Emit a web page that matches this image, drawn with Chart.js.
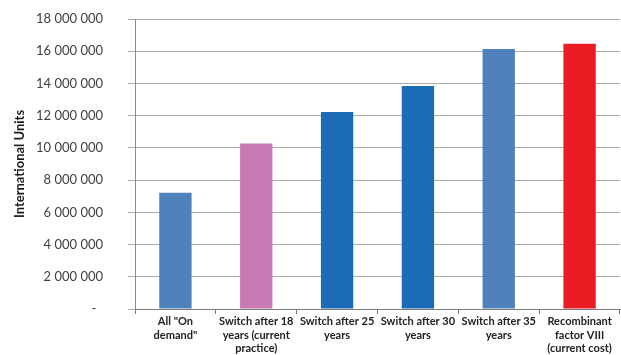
<!DOCTYPE html>
<html><head><meta charset="utf-8">
<script src="https://cdn.jsdelivr.net/npm/chart.js@4/dist/chart.umd.min.js"></script>
<style>html,body{margin:0;padding:0;background:#fff;}#wrap{width:621px;height:355px;}</style>
</head><body><div id="wrap"><canvas id="c" width="621" height="355"></canvas></div>
<script>
const categories = [
  ['All "On', 'demand"'],
  ['Switch after 18', 'years (current', 'practice)'],
  ['Switch after 25', 'years'],
  ['Switch after 30', 'years'],
  ['Switch after 35', 'years'],
  ['Recombinant', 'factor VIII', '(current cost)']
];
const values = [7220000, 10280000, 12230000, 13840000, 16140000, 16470000];
const barColors = ['#4F81BD', '#C779B4', '#1B6BB6', '#1B6BB6', '#4F81BD', '#EC1C24'];
const yTicks = [0, 2000000, 4000000, 6000000, 8000000, 10000000, 12000000, 14000000, 16000000, 18000000];
const yTitle = 'International Units';

function fmt(v){
  if (v === 0) return '-  ';
  return String(v).replace(/\B(?=(\d{3})+(?!\d))/g, ' ');
}

new Chart(document.getElementById('c'), {
  type: 'bar',
  data: { labels: categories, datasets: [{ data: values, backgroundColor: barColors, borderWidth: 0, categoryPercentage: 1, barPercentage: 0.4 }] },
  options: {
    responsive: false, animation: false,
    layout: { padding: { top: 19, right: 1, left: 0, bottom: 0 } },
    plugins: { legend: { display: false }, tooltip: { enabled: false } },
    scales: {
      x: {
        grid: { display: true, drawOnChartArea: false, drawTicks: true, tickLength: 5, color: '#7a7a7a', offset: true },
        border: { display: true, color: '#7a7a7a', width: 1 },
        ticks: { color: '#222222', font: { family: 'Lato', size: 11, weight: 'bold', lineHeight: '13.5px' }, padding: 1, maxRotation: 0, autoSkip: false },
        afterFit: s => { s.height = 46; s.paddingTop = 0; s.paddingBottom = 0; s.paddingLeft = 0; s.paddingRight = 0; }
      },
      y: {
        min: 0, max: 18000000,
        afterBuildTicks: s => { s.ticks = yTicks.map(v => ({ value: v })); },
        grid: { color: '#ababab', lineWidth: 1, tickLength: 7, drawTicks: true },
        border: { display: true, color: '#8a8a8a', width: 1 },
        ticks: { color: '#404040', font: { family: 'Lato', size: 13 }, padding: 25, callback: v => fmt(v) },
        title: { display: true, text: yTitle, color: '#1a1a1a', font: { family: 'Lato', size: 13, weight: 'bold' }, padding: { top: 12, bottom: 0 } },
        afterFit: s => { s.width = 135; s.paddingTop = 0; s.paddingBottom = 0; }
      }
    }
  }
});
</script></body></html>
